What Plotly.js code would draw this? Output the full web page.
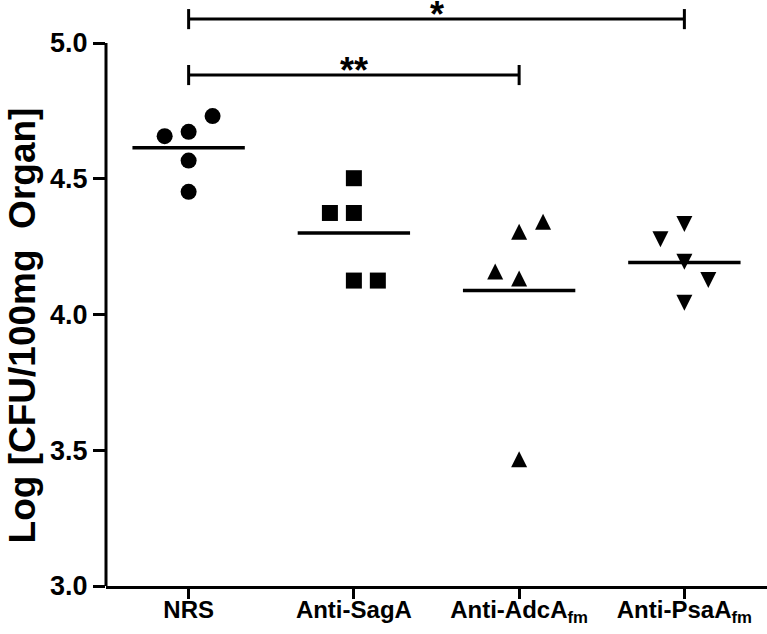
<!DOCTYPE html>
<html><head><meta charset="utf-8">
<script src="https://cdn.plot.ly/plotly-3.0.1.min.js"></script>
<style>html,body{margin:0;padding:0;background:#fff}#chart{width:767px;height:634px}</style>
</head><body><div id="chart"></div>
<script>
// ---- data ----
const categories = ['NRS', 'Anti-SagA', 'Anti-AdcA<sub>fm</sub>', 'Anti-PsaA<sub>fm</sub>'];
const nrsValues  = [4.657, 4.673, 4.731, 4.567, 4.452];
const sagaValues = [4.502, 4.374, 4.374, 4.125, 4.125];
const adcaValues = [4.305, 4.342, 4.158, 4.133, 3.467];
const psaaValues = [4.333, 4.277, 4.194, 4.127, 4.043];
const groupMeans = [4.614, 4.300, 4.088, 4.192];
const yTickVals  = [3.0, 3.5, 4.0, 4.5, 5.0];
const yTickText  = ['3.0', '3.5', '4.0', '4.5', '5.0'];
const yTitle     = 'Log [CFU/100mg\u00a0 Organ]';
const sigPairs   = [[0, 3], [0, 2]];
const sigLabels  = ['*', '**'];
const sigLevels  = [5.088, 4.882];

// ---- presentation ----
const nrsJitter  = [-1, 0, 1, 0, 0];
const sagaJitter = [0, -1, 0, 0, 1];
const adcaJitter = [0, 1, -1, 0, 0];
const psaaJitter = [0, -1, 0, 1, 0];
const jitterStep = 0.145;
const FONT = 'Liberation Sans, Arial, Helvetica, sans-serif';
const MS = 16;

const groups = [
  {vals: nrsValues,  jit: nrsJitter,  marker: {symbol: 'circle', size: MS}},
  {vals: sagaValues, jit: sagaJitter, marker: {symbol: 'square', size: MS}},
  {vals: adcaValues, jit: adcaJitter, marker: {symbol: 'arrow-down', size: MS, angle: 180, standoff: MS / 2}},
  {vals: psaaValues, jit: psaaJitter, marker: {symbol: 'arrow-down', size: MS, angle: 0, standoff: MS / 2}}
];

const traces = [];
groups.forEach((g, i) => {
  traces.push({
    type: 'scatter', mode: 'markers',
    x: g.vals.map((v, k) => i + g.jit[k] * jitterStep),
    y: g.vals,
    marker: Object.assign({color: '#000', line: {width: 0}}, g.marker),
    cliponaxis: false, hoverinfo: 'skip'
  });
});
const meanX = [], meanY = [];
groupMeans.forEach((m, i) => { meanX.push(i - 0.34, i + 0.34, null); meanY.push(m, m, null); });
traces.push({type: 'scatter', mode: 'lines', x: meanX, y: meanY,
  line: {color: '#000', width: 3.5}, hoverinfo: 'skip'});

const shapes = [{type: 'line', xref: 'paper', x0: 0, x1: 0, yref: 'y',
  y0: yTickVals[0], y1: yTickVals[yTickVals.length - 1], line: {color: '#000', width: 3}}];
const annotations = [];
const capH = 0.037;
sigPairs.forEach((p, i) => {
  const lv = sigLevels[i];
  shapes.push({type: 'line', xref: 'x', yref: 'y', x0: p[0], x1: p[1], y0: lv, y1: lv, line: {color: '#000', width: 3}});
  shapes.push({type: 'line', xref: 'x', yref: 'y', x0: p[0], x1: p[0], y0: lv - capH, y1: lv + capH, line: {color: '#000', width: 3}});
  shapes.push({type: 'line', xref: 'x', yref: 'y', x0: p[1], x1: p[1], y0: lv - capH, y1: lv + capH, line: {color: '#000', width: 3}});
  annotations.push({xref: 'x', yref: 'y', x: (p[0] + p[1]) / 2, y: lv, text: sigLabels[i],
    showarrow: false, xanchor: 'center', yanchor: 'bottom', yshift: -18,
    font: {family: FONT, size: 36, color: '#000', weight: 'bold'}});
});
annotations.push({xref: 'paper', yref: 'y', x: -0.127, y: 3.96, text: yTitle, textangle: -90,
  showarrow: false, xanchor: 'center', yanchor: 'middle',
  font: {family: FONT, size: 37, color: '#000', weight: 'bold'}});

const layout = {
  width: 767, height: 634,
  margin: {l: 106, r: 0, t: 5, b: 48, pad: 0},
  paper_bgcolor: '#fff', plot_bgcolor: '#fff', showlegend: false,
  xaxis: {range: [-0.5, 3.5], tickvals: [0, 1, 2, 3], ticktext: categories,
    showline: true, linewidth: 3, linecolor: '#000', ticks: 'outside', ticklen: 10, tickwidth: 3,
    tickcolor: '#000', showgrid: false, zeroline: false, ticklabelstandoff: -10,
    tickfont: {family: FONT, size: 24, color: '#000', weight: 'bold'}},
  yaxis: {range: [3, 5.14], tickvals: yTickVals, ticktext: yTickText,
    showline: false, ticks: 'outside', ticklen: 12, tickwidth: 3, tickcolor: '#000',
    showgrid: false, zeroline: false,
    tickfont: {family: FONT, size: 27, color: '#000', weight: 'bold'}},
  shapes: shapes, annotations: annotations
};
Plotly.newPlot('chart', traces, layout, {staticPlot: true, displayModeBar: false});
</script></body></html>
